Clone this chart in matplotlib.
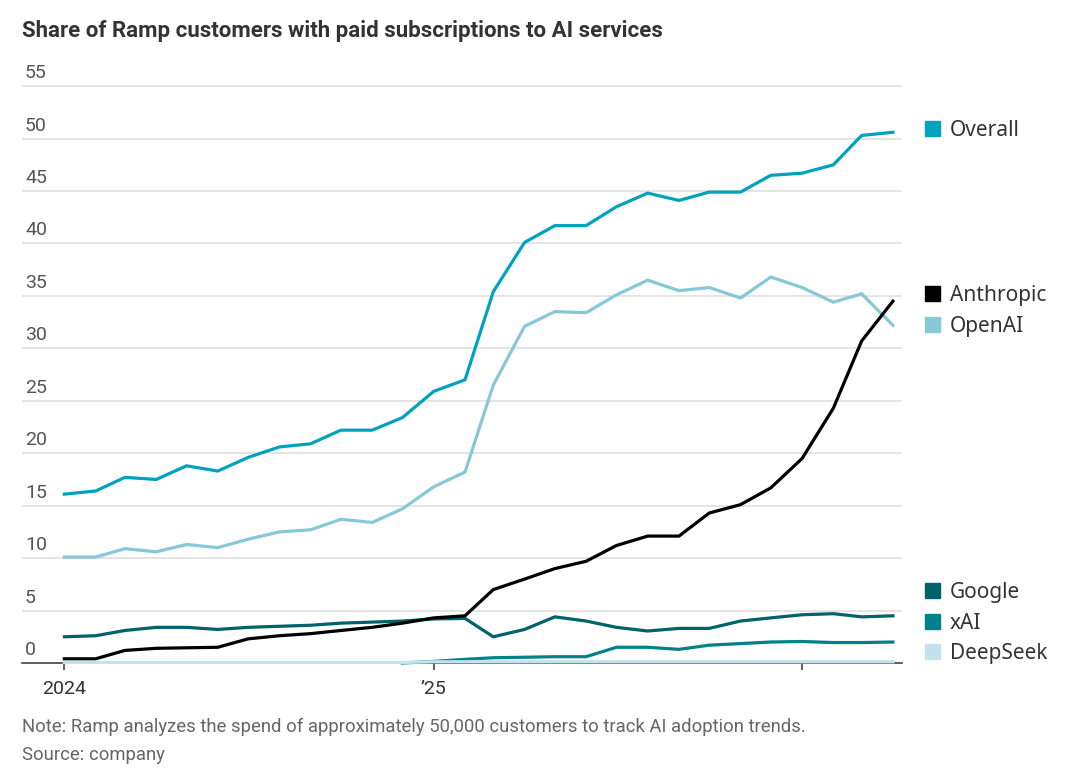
import numpy as np
import pandas as pd
import matplotlib
matplotlib.use("Agg")
import matplotlib.pyplot as plt
import matplotlib.transforms as mtransforms

# data (monthly, Jan 2024 - Apr 2026), share of customers in %
months = pd.date_range("2024-01-01", periods=28, freq="MS")

overall = [16.1, 16.4, 17.7, 17.5, 18.8, 18.3, 19.6, 20.6, 20.9, 22.2, 22.2, 23.4,
           25.9, 27.0, 35.4, 40.1, 41.7, 41.7, 43.5, 44.8, 44.1, 44.9, 44.9, 46.5,
           46.7, 47.5, 50.3, 50.6]
openai = [10.1, 10.1, 10.9, 10.6, 11.3, 11.0, 11.8, 12.5, 12.7, 13.7, 13.4, 14.7,
          16.8, 18.2, 26.5, 32.1, 33.5, 33.4, 35.1, 36.5, 35.5, 35.8, 34.8, 36.8,
          35.8, 34.4, 35.2, 32.2]
anthropic = [0.4, 0.4, 1.2, 1.4, 1.45, 1.5, 2.3, 2.6, 2.8, 3.1, 3.4, 3.8,
             4.3, 4.5, 7.0, 8.0, 9.0, 9.7, 11.2, 12.1, 12.1, 14.3, 15.1, 16.7,
             19.5, 24.3, 30.7, 34.5]
google = [2.5, 2.6, 3.1, 3.4, 3.4, 3.2, 3.4, 3.5, 3.6, 3.8, 3.9, 4.0,
          4.2, 4.25, 2.5, 3.2, 4.4, 4.0, 3.4, 3.05, 3.3, 3.3, 4.0, 4.3,
          4.6, 4.7, 4.4, 4.5]
xai = [np.nan] * 11 + [0.0,
       0.15, 0.35, 0.5, 0.55, 0.6, 0.6, 1.5, 1.5, 1.3, 1.7, 1.85, 2.0,
       2.05, 1.95, 1.95, 2.0]
deepseek = [0.05] * 12 + [0.12] * 16

series_names = ["DeepSeek", "xAI", "Google", "OpenAI", "Overall", "Anthropic"]
series_values = [deepseek, xai, google, openai, overall, anthropic]
series_colors = {
    "Overall": "#00a2bd",
    "OpenAI": "#86c8d7",
    "Anthropic": "#000000",
    "Google": "#00626b",
    "xAI": "#00818c",
    "DeepSeek": "#c3e3ec",
}

# label positions on the right (y in data units)
legend_order = ["Overall", "Anthropic", "OpenAI", "Google", "xAI", "DeepSeek"]
legend_y = [51.0, 35.2, 32.3, 6.9, 4.0, 1.1]

yticks = list(range(0, 60, 5))

narrow = ["Roboto", "DejaVu Sans"]

fig = plt.figure(figsize=(10.76, 7.76), dpi=100)
W, H = 1076, 776
ax_left, ax_right = 22, 902
ax_bottom, ax_top = 663, 83
ax = fig.add_axes([ax_left / W, 1 - ax_bottom / H,
                   (ax_right - ax_left) / W, (ax_bottom - ax_top) / H])

for name, vals in zip(series_names, series_values):
    ax.plot(months, vals, color=series_colors[name], lw=2.3,
            solid_joinstyle="round", clip_on=False,
            zorder=4 if name == "DeepSeek" else 3)

ax.set_ylim(0, 55.3)
ax.set_xlim(pd.Timestamp("2024-01-01") - pd.Timedelta(days=42),
            pd.Timestamp("2026-04-01") + pd.Timedelta(days=9))

# grid
ax.set_yticks(yticks)
ax.yaxis.grid(True, color="#e4e4e4", lw=1.4)
ax.set_axisbelow(True)
ax.tick_params(axis="y", length=0, labelleft=False)

# y labels sitting on top of the grid lines
trans = mtransforms.blended_transform_factory(ax.transAxes, ax.transData)
off = mtransforms.offset_copy(trans, fig=fig, x=3, y=4, units="dots")
for v in yticks:
    ax.text(0, v, str(v), transform=off, ha="left", va="bottom",
            fontsize=14, color="#555555", family=narrow)

# x axis
xt = [pd.Timestamp("2024-01-01"), pd.Timestamp("2025-01-01"), pd.Timestamp("2026-01-01")]
ax.set_xticks(xt)
ax.set_xticklabels(["2024", "\u201925", ""], fontsize=14, color="#333333",
                   family=narrow)
ax.tick_params(axis="x", length=5, width=1.2, color="#444444", pad=7)

for s in ["top", "right", "left"]:
    ax.spines[s].set_visible(False)
ax.spines["bottom"].set_color("#444444")
ax.spines["bottom"].set_linewidth(1.2)
ax.spines["bottom"].set_zorder(2)

# right-hand labels
for name, y in zip(legend_order, legend_y):
    fy = ax.transData.transform((0, y))[1] / H
    fig.patches.append(plt.Rectangle((925 / W, fy - 7.5 / H), 15 / W, 15 / H,
                                     transform=fig.transFigure,
                                     color=series_colors[name]))
    fig.text(950 / W, fy - 2 / H, name, ha="left", va="center", fontsize=15,
             color="#333333", family=["Noto Sans", "DejaVu Sans"])

# title and notes
fig.text(22 / W, 1 - 31 / H,
         "Share of Ramp customers with paid subscriptions to AI services",
         ha="left", va="center", fontsize=16, fontweight="bold",
         color="#333333", family=narrow)
fig.text(22 / W, 1 - 727 / H,
         "Note: Ramp analyzes the spend of approximately 50,000 customers to track AI adoption trends.",
         ha="left", va="center", fontsize=13.3, color="#666666", family=narrow)
fig.text(22 / W, 1 - 755 / H, "Source: company",
         ha="left", va="center", fontsize=13.3, color="#666666", family=narrow)

fig.savefig("out.png", dpi=100)
